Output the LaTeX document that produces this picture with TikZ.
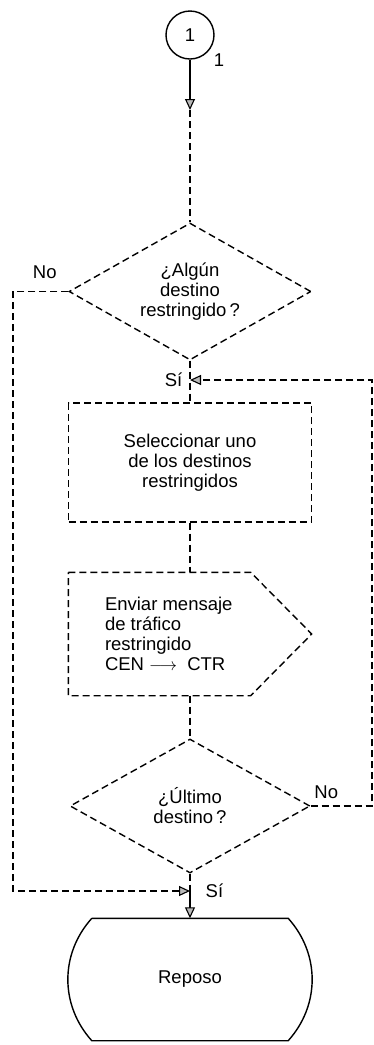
\documentclass[tikz,border=0pt]{standalone}
\usepackage{fontspec}
\setmainfont{Liberation Sans}
\usetikzlibrary{arrows.meta,positioning,calc,shapes.geometric}

\begin{document}
\begin{tikzpicture}[x=1pt,y=-1pt,font=\fontsize{18.5}{20}\selectfont,line width=1.4pt,
  dl/.style={dash pattern=on 7pt off 4pt},
  box/.style={draw,dl,inner sep=0pt,align=center,minimum width=243pt,minimum height=119pt},
  dec/.style={draw,dl,diamond,aspect=1.8,inner sep=0pt,align=center},
  arr/.style={-{Triangle[length=11pt,width=10pt,fill=gray!55,line width=1.1pt]}},
  lab/.style={inner sep=1pt}]
\useasboundingbox (0,0) rectangle (374,1045);
\node[draw,circle,minimum size=48pt,inner sep=0pt] (start) at (190,35) {1};
\node[lab] (startlab) at (219,60) {1};
\coordinate (c1) at (190,110);
\node[dec,minimum width=242pt,minimum height=137pt] (ask) at (190,291.5) {¿Algún\\destino\\restringido\,?};
\coordinate (j1) at (190,380);
\node[box] (sel) at (190,462.5) {Seleccionar uno\\de los destinos\\restringidos};
\node[minimum width=181pt,minimum height=122pt,inner sep=0pt] (send) at (159.5,634) {};
\draw[dl] (send.north west) -- (send.north east) -- ($(send.east)+(61,0)$) -- (send.south east) -- (send.south west) -- cycle;
\node[right=36pt of send.west,align=left,inner sep=0pt] (sendtxt) {Enviar mensaje\\de tráfico\\restringido\\CEN $\longrightarrow$\ \ CTR};
\node[dec,minimum width=240pt,minimum height=134pt] (last) at (190,806) {¿Último\\destino\,?};
\coordinate (j2) at (190,891);
\node[minimum width=195pt,minimum height=121pt,inner sep=0pt] (rest) at (190,979.5) {Reposo};
\draw (rest.north west) -- (rest.north east) to[out=-48,in=48] (rest.south east)
  -- (rest.south west) to[out=132,in=-132] (rest.north west);
\coordinate (rloop) at (372,380);
\coordinate (lloop) at (13,891);
% connectors
\draw[arr] (start) -- (c1);
\draw[dl] (c1) -- (ask.north);
\draw[dl] (ask.south) -- (j1) -- (sel.north);
\draw[dl] (sel.south) -- (sel.south |- send.north);
\draw[dl] (last.north |- send.south) -- (last.north);
\draw[dl] (last.south) -- (j2);
\draw[arr] (j2) -- (rest.north);
\draw[dl,arr] (last.east) -| (rloop) -- (j1);
\draw[dl,arr] (ask.west) -| (lloop) -- (j2);
% labels
\node[lab,above left=11.5pt and 10pt of ask.west] (no1) {No};
\node[lab,left=6pt of j1] (si1) {Sí};
\node[lab,above right=6pt and 2pt of last.east] (no2) {No};
\node[lab,right=14pt of j2] (si2) {Sí};
\end{tikzpicture}
\end{document}
